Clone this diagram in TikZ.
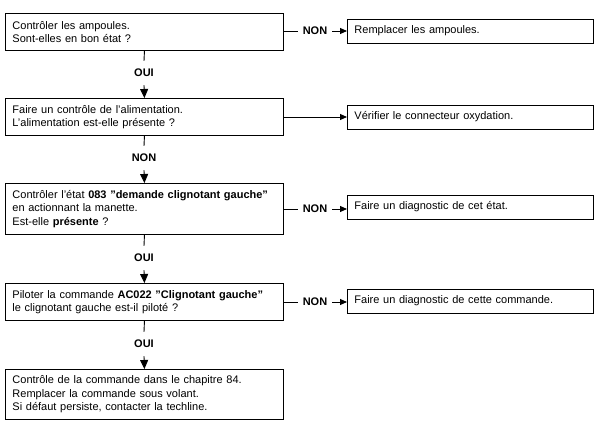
\documentclass[tikz,border=0pt]{standalone}
\usepackage{fontspec}
\setmainfont{Liberation Sans}
\usetikzlibrary{calc, shapes, arrows.meta, positioning}

\begin{document}
\begin{tikzpicture}[x=1pt, y=-1pt,
		stepbox/.style={draw, line width=0.9pt, rectangle, align=left,
			inner xsep=7pt, inner ysep=0pt, font=\fontsize{11}{13.5}\selectfont},
		leftbox/.style={stepbox, anchor=north west, text width=264pt, minimum height=37pt},
		rightbox/.style={stepbox, anchor=west, text width=232pt, minimum height=24pt},
		answer/.style={font=\fontsize{11}{12}\selectfont\bfseries, inner xsep=5pt, inner ysep=0pt},
		vanswer/.style={answer, minimum height=24pt},
		link/.style={line width=0.9pt},
		linkarrow/.style={line width=0.9pt, -{Triangle[length=7pt, width=6pt]}},
		downarrow/.style={line width=0.9pt, -{Triangle[length=9pt, width=8pt]}}
	]
	%Page frame
	\useasboundingbox (0,0) rectangle (599,435);
	%Boxes on the left hand side
	\node [leftbox] (ampoules) at (5,13) {Contrôler les ampoules.\\Sont-elles en bon état ?};
	\node [leftbox] (alim) at (5,98) {Faire un contrôle de l'alimentation.\\L'alimentation est-elle présente ?};
	\node [leftbox, minimum height=51pt] (etat) at (5,183) {Contrôler l'état \textbf{083 "demande clignotant gauche"}\\en actionnant la manette.\\Est-elle \textbf{présente} ?};
	\node [leftbox] (commande) at (5,283) {Piloter la commande \textbf{AC022 "Clignotant gauche"}\\le clignotant gauche est-il piloté ?};
	\node [leftbox, minimum height=50pt] (chapitre) at (5,369) {Contrôle de la commande dans le chapitre 84.\\Remplacer la commande sous volant.\\Si défaut persiste, contacter la techline.};
	%Boxes on the right hand side
	\node [rightbox] (remplacer) at (347,31) {Remplacer les ampoules.};
	\node [rightbox] (verifier) at (347,117) {Vérifier le connecteur oxydation.};
	\node [rightbox] (diagetat) at (347,207) {Faire un diagnostic de cet état.};
	\node [rightbox] (diagcmd) at (347,301) {Faire un diagnostic de cette commande.};
	%Answers between the left boxes
	\node [vanswer] (oui1) at (144,73) {OUI};
	\node [vanswer] (non2) at (144,158) {NON};
	\node [vanswer] (oui3) at (144,258) {OUI};
	\node [vanswer] (oui4) at (144,344) {OUI};
	%Answers towards the right boxes
	\node [answer] (non1) at (315,31) {NON};
	\node [answer] (non3) at (315,209) {NON};
	\node [answer] (non4) at (315,302) {NON};
	%Vertical connectors
	\draw [link] (ampoules.south) -- (oui1.north);
	\draw [downarrow] (oui1.south) -- (alim.north);
	\draw [link] (alim.south) -- (non2.north);
	\draw [downarrow] (non2.south) -- (etat.north);
	\draw [link] (etat.south) -- (oui3.north);
	\draw [downarrow] (oui3.south) -- (commande.north);
	\draw [link] (commande.south) -- (oui4.north);
	\draw [downarrow] (oui4.south) -- (chapitre.north);
	%Horizontal connectors
	\draw [link] (ampoules.east |- non1) -- (non1.west);
	\draw [linkarrow] (non1.east) -- (remplacer.west |- non1);
	\draw [linkarrow] (alim.east |- verifier) -- (verifier.west);
	\draw [link] (etat.east |- non3) -- (non3.west);
	\draw [linkarrow] (non3.east) -- (diagetat.west |- non3);
	\draw [link] (commande.east |- non4) -- (non4.west);
	\draw [linkarrow] (non4.east) -- (diagcmd.west |- non4);
\end{tikzpicture}
\end{document}
